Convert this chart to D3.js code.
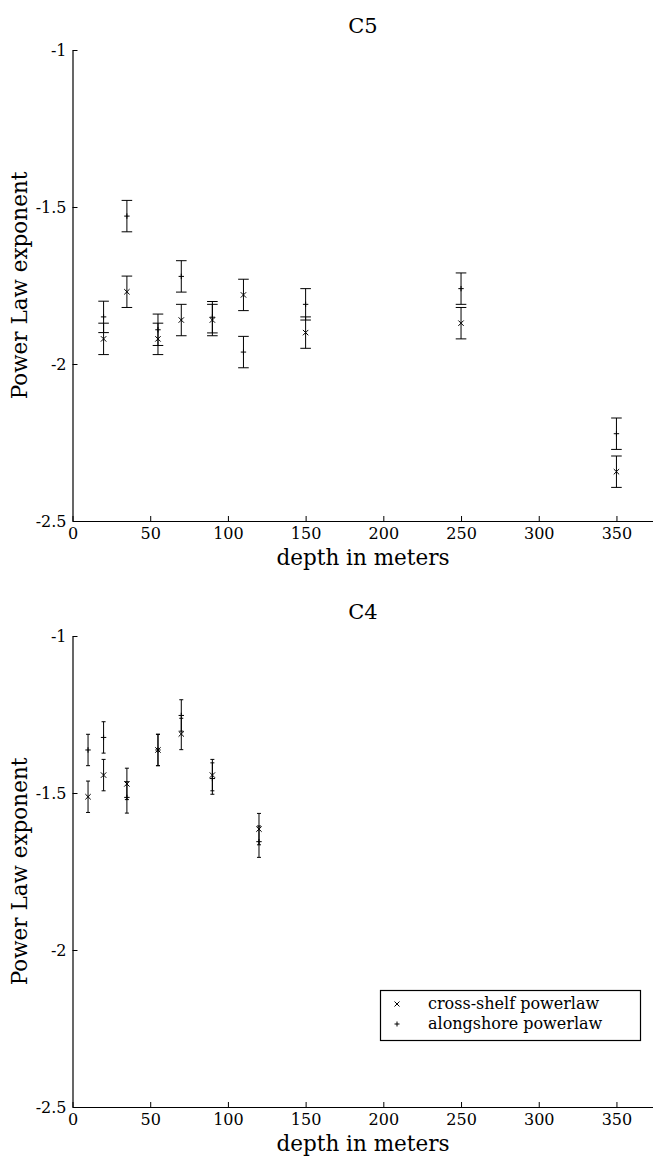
<!DOCTYPE html>
<html><head><meta charset="utf-8">
<script src="https://cdn.jsdelivr.net/npm/d3@7"></script>
<style>body{margin:0;background:#fff}svg{display:block}text{font-family:"DejaVu Serif",serif;fill:#000}</style>
</head><body>
<script>
// ---- data ----
const xTicks = [0, 50, 100, 150, 200, 250, 300, 350];
const yTicks = [-1, -1.5, -2, -2.5];
const yTickLabels = ["-1", "-1.5", "-2", "-2.5"];

const c5Depth = [20, 35, 55, 70, 90, 110, 150, 250, 350];
const c5Cross = [-1.92, -1.77, -1.92, -1.86, -1.86, -1.78, -1.90, -1.87, -2.343];
const c5CrossErr = [0.05, 0.05, 0.05, 0.05, 0.05, 0.05, 0.05, 0.05, 0.05];
const c5Along = [-1.85, -1.529, -1.891, -1.721, -1.851, -1.962, -1.81, -1.76, -2.222];
const c5AlongErr = [0.05, 0.05, 0.05, 0.05, 0.05, 0.05, 0.05, 0.05, 0.05];

const c4Depth = [10, 20, 35, 55, 70, 90, 120];
const c4Cross = [-1.512, -1.443, -1.471, -1.363, -1.312, -1.443, -1.615];
const c4CrossErr = [0.05, 0.05, 0.05, 0.05, 0.05, 0.05, 0.05];
const c4Along = [-1.363, -1.323, -1.514, -1.363, -1.253, -1.454, -1.655];
const c4AlongErr = [0.05, 0.05, 0.05, 0.05, 0.05, 0.05, 0.05];

const legendLabels = ["cross-shelf powerlaw", "alongshore powerlaw"];

// ---- drawing ----
const W = 653, H = 1158;
const svg = d3.select("body").append("svg").attr("width", W).attr("height", H);
const x = d3.scaleLinear().domain([0, 375]).range([72.5, 655.3]);

function cross(g, cx, cy, s) {
  g.append("path").attr("d", `M${cx-s},${cy-s}L${cx+s},${cy+s}M${cx-s},${cy+s}L${cx+s},${cy-s}`)
    .attr("stroke", "#000").attr("stroke-width", 1).attr("fill", "none");
}
function plus(g, cx, cy, s) {
  g.append("path").attr("d", `M${cx-s},${cy}L${cx+s},${cy}M${cx},${cy-s}L${cx},${cy+s}`)
    .attr("stroke", "#000").attr("stroke-width", 1).attr("fill", "none");
}

function panel(opts) {
  const y = d3.scaleLinear().domain([-1, -2.5]).range([opts.top, opts.bottom]);
  const g = svg.append("g");
  // title
  g.append("text").attr("x", 363).attr("y", opts.top - 17).attr("text-anchor", "middle")
    .attr("font-size", 21).text(opts.title);
  // x axis
  const xa = g.append("g").attr("transform", `translate(0,${opts.bottom})`)
    .call(d3.axisBottom(x).tickValues(xTicks).tickFormat(d3.format("d"))
      .tickSizeInner(-5).tickSizeOuter(0).tickPadding(6.5));
  xa.select(".domain").attr("stroke-width", 1.2);
  xa.selectAll("text").attr("font-size", 16).attr("font-family", "DejaVu Serif");
  // y axis
  const ya = g.append("g").attr("transform", `translate(${x(0)},0)`)
    .call(d3.axisLeft(y).tickValues(yTicks).tickFormat((d, i) => yTickLabels[i])
      .tickSizeInner(-5).tickSizeOuter(0).tickPadding(6));
  ya.select(".domain").attr("stroke-width", 1.2);
  ya.selectAll("text").attr("font-size", 16).attr("font-family", "DejaVu Serif");
  // axis labels
  g.append("text").attr("x", 363).attr("y", opts.bottom + 44).attr("text-anchor", "middle")
    .attr("font-size", 21.5).text("depth in meters");
  g.append("text").attr("transform", `translate(27,${(opts.top + opts.bottom) / 2}) rotate(-90)`)
    .attr("text-anchor", "middle").attr("font-size", 21.5).text("Power Law exponent");

  function series(vals, errs, marker) {
    opts.depth.forEach((d, i) => {
      const cx = x(d), y1 = y(vals[i] + errs[i]), y2 = y(vals[i] - errs[i]);
      const c = opts.cap;
      g.append("path")
        .attr("d", `M${cx},${y1}L${cx},${y2}M${cx-c},${y1}L${cx+c},${y1}M${cx-c},${y2}L${cx+c},${y2}`)
        .attr("stroke", "#000").attr("stroke-width", 1).attr("fill", "none");
      marker(g, cx, y(vals[i]), 2.7);
    });
  }
  series(opts.cross, opts.crossErr, cross);
  series(opts.along, opts.alongErr, plus);

  if (opts.legend) {
    const lg = g.append("g");
    lg.append("rect").attr("x", 380.5).attr("y", 990.5).attr("width", 260).attr("height", 50)
      .attr("fill", "#fff").attr("stroke", "#000").attr("stroke-width", 1.2);
    cross(lg, 397, 1004, 2.5);
    plus(lg, 397, 1024, 2.5);
    lg.append("text").attr("x", 428).attr("y", 1009).attr("font-size", 16).text(legendLabels[0]);
    lg.append("text").attr("x", 428).attr("y", 1029).attr("font-size", 16).text(legendLabels[1]);
  }
}

panel({title: "C5", top: 50, bottom: 521, depth: c5Depth, cross: c5Cross, crossErr: c5CrossErr,
  along: c5Along, alongErr: c5AlongErr, cap: 5.3, legend: false});
panel({title: "C4", top: 636, bottom: 1107, depth: c4Depth, cross: c4Cross, crossErr: c4CrossErr,
  along: c4Along, alongErr: c4AlongErr, cap: 2, legend: true});
</script>
</body></html>
